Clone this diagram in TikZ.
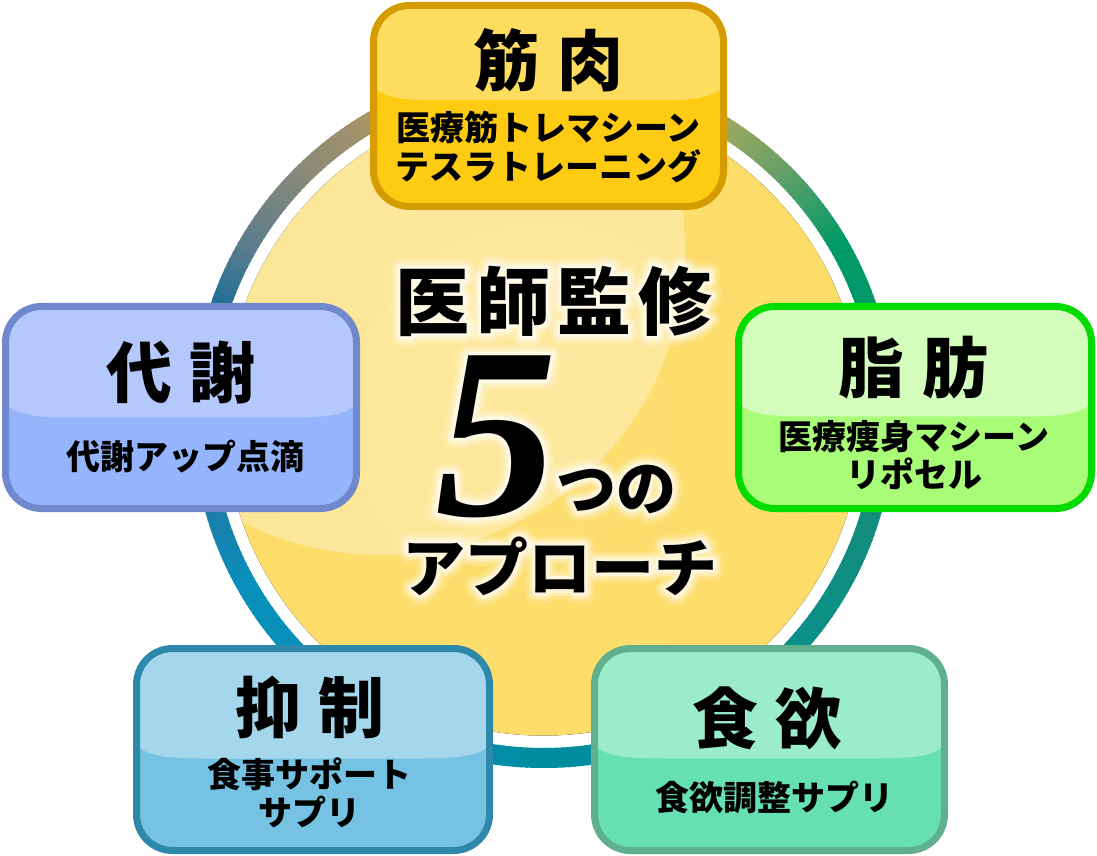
\documentclass[tikz,border=0pt]{standalone}
\usepackage{fontspec}
\newfontfamily\jp{Noto Sans CJK JP}
\newfontfamily\numfont{Liberation Serif}
\usetikzlibrary{calc}
% ring colours
\definecolor{rA}{HTML}{008CA0}\definecolor{rB}{HTML}{0A9088}\definecolor{rC}{HTML}{128C7C}
\definecolor{rD}{HTML}{089470}\definecolor{rE}{HTML}{009A66}\definecolor{rF}{HTML}{6AA068}
\definecolor{rG}{HTML}{9AA860}\definecolor{rH}{HTML}{A89C64}\definecolor{rI}{HTML}{A89468}
\definecolor{rJ}{HTML}{8A8A78}\definecolor{rK}{HTML}{5A7C8C}\definecolor{rL}{HTML}{06689A}
\definecolor{rM}{HTML}{1A7EAA}\definecolor{rN}{HTML}{0890BC}\definecolor{rO}{HTML}{0890B8}
% yellow ball
\definecolor{yA}{HTML}{FDDF70}\definecolor{yB}{HTML}{FCDB66}\definecolor{yC}{HTML}{F0CA5C}\definecolor{yD}{HTML}{D8B050}
\pgfdeclareradialshading{yball}{\pgfpoint{0bp}{0bp}}{color(0bp)=(yA); color(40bp)=(yB); color(46bp)=(yC); color(50bp)=(yD); color(60bp)=(yD)}
% boxes
\definecolor{kinbd}{HTML}{D49C00}\definecolor{kintop}{HTML}{FEDC5E}\definecolor{kinbot}{HTML}{FDCB12}
\definecolor{taibd}{HTML}{7088CC}\definecolor{taitop}{HTML}{B4C8FC}\definecolor{taibot}{HTML}{94B4FC}
\definecolor{shibd}{HTML}{00DC00}\definecolor{shitop}{HTML}{D4FCBC}\definecolor{shibot}{HTML}{A8FC78}
\definecolor{yokbd}{HTML}{2E88AA}\definecolor{yoktop}{HTML}{A4D6EC}\definecolor{yokbot}{HTML}{76C2E2}
\definecolor{shobd}{HTML}{60B090}\definecolor{shotop}{HTML}{9AECCA}\definecolor{shobot}{HTML}{66E0B2}
\tikzset{
  boxbase/.style={rectangle, inner sep=0pt, outer sep=0pt, rounded corners=36},
  ttl/.style={inner sep=0pt, font=\jp\bfseries\fontsize{66}{70}\selectfont},
  subt/.style={inner sep=0pt, align=center, font=\jp\bfseries\fontsize{34}{38.5}\selectfont},
  ctext/.style={inner sep=0pt},
}
\newcommand\gbox[7]{%
  \node[boxbase, fill=#6bot, minimum width=#4, minimum height=#5] (#1) at (#2,#3) {};
  \begin{scope}
    \clip[rounded corners=36] (#1.south west) rectangle (#1.north east);
    \fill[#6top] ({#2-#4/2-5},{#3+#5/2+5}) -- ({#2-#4/2-5},{#3+#5/2-#7+22})
      .. controls ({#2-#4/2+2},{#3+#5/2-#7+3}) and ({#2-#4/2+25},{#3+#5/2-#7}) .. ({#2-#4/2+70},{#3+#5/2-#7})
      -- ({#2+#4/2-70},{#3+#5/2-#7})
      .. controls ({#2+#4/2-25},{#3+#5/2-#7}) and ({#2+#4/2-2},{#3+#5/2-#7+3}) .. ({#2+#4/2+5},{#3+#5/2-#7+22})
      -- ({#2+#4/2+5},{#3+#5/2+5}) -- cycle;
  \end{scope}
  \draw[#6bd, line width=7, rounded corners=36] (#1.south west) rectangle (#1.north east);
}
% halo: white stroked copies of the text (PDF text render mode 2)
\newcommand\halo[2]{\special{pdf:literal direct 2 Tr #1 w 1 j 1 J}#2\special{pdf:literal direct 0 Tr}}
\newcommand\glowtext[5]{% name, options, x, y, content
  \foreach \gw/\go/\gi in {20/0.18/1,13/0.3/2,7/0.55/3}{
    \node[ctext, #2, text=white, opacity=\go] (#1-\gi) at (#3,#4) {\halo{\gw}{#5}};
  }
  \node[ctext, #2] (#1) at (#3,#4) {#5};
}
\begin{document}
\begin{tikzpicture}[x=1pt,y=1pt]
\fill[white] (0,0) rectangle (1097,855);
\useasboundingbox (0,0) rectangle (1097,855);
\coordinate (C) at (543.5,438.4);
% gradient ring
\foreach \a/\b/\ca/\cb in {-90/-41/rA/rB, -41/-18/rB/rC, -18/0/rC/rD, 0/30/rD/rE, 30/46/rE/rF, 46/57/rF/rG, 57/90/rG/rH, 90/120/rH/rI, 120/134/rI/rJ, 134/150/rJ/rK, 150/165/rK/rL, 165/196/rL/rM, 196/210/rM/rN, 210/240/rN/rO, 240/270/rO/rA}{
  \pgfmathtruncatemacro\bm{\b-1}
  \foreach \t in {\a,...,\bm}{
    \pgfmathtruncatemacro\p{100*(\b-\t)/(\b-\a)}
    \draw[line width=20, draw=\ca!\p!\cb] ($(C)+(\t:341.4)$) arc[start angle=\t, end angle=\t+1.4, radius=341.4];
  }
}
% yellow ball
\fill[shading=yball] (C) circle[radius=319];
\begin{scope}
  \clip (C) circle[radius=319];
  \fill[white, fill opacity=0.32] (380,605) circle[radius=305];
\end{scope}
% boxes
\gbox{kin}{548.5}{749}{350}{201}{kin}{95}
\gbox{tai}{181}{447.5}{351}{202}{tai}{111}
\gbox{shi}{915}{447.5}{353}{202}{shi}{110}
\gbox{yok}{313}{105.5}{353}{202}{yok}{110}
\gbox{sho}{769.5}{105.5}{350}{202}{sho}{110}
% box texts
\node[ttl] (kint) at (548.5,795) {筋\kern18pt 肉};
\node[subt] (kins) at (548.5,708) {医療筋トレマシーン\\テスラトレーニング};
\node[ttl] (tait) at (181,483) {代\kern18pt 謝};
\node[subt] (tais) at (185,398) {代謝アップ点滴};
\node[ttl] (shit) at (913.5,487) {脂\kern18pt 肪};
\node[subt] (shis) at (914,400) {医療痩身マシーン\\リポセル};
\node[ttl] (yokt) at (310,148) {抑\kern18pt 制};
\node[subt] (yoks) at (309,62) {食事サポート\\サプリ};
\node[ttl] (shot) at (767,137) {食\kern18pt 欲};
\node[subt] (shos) at (774,58) {食欲調整サプリ};
% centre texts
\glowtext{ishi}{font=\jp\bfseries\fontsize{74}{80}\selectfont}{554}{554}{医\kern7pt 師\kern7pt 監\kern7pt 修}
\glowtext{five}{anchor=base, font=\numfont\bfseries\itshape\fontsize{244}{250}\selectfont}{496}{340}{5}
\glowtext{tsuno}{font=\jp\bfseries\fontsize{60}{66}\selectfont}{616}{366}{つの}
\glowtext{appr}{font=\jp\bfseries\fontsize{63}{70}\selectfont}{560}{289}{アプローチ}
\end{tikzpicture}
\end{document}
